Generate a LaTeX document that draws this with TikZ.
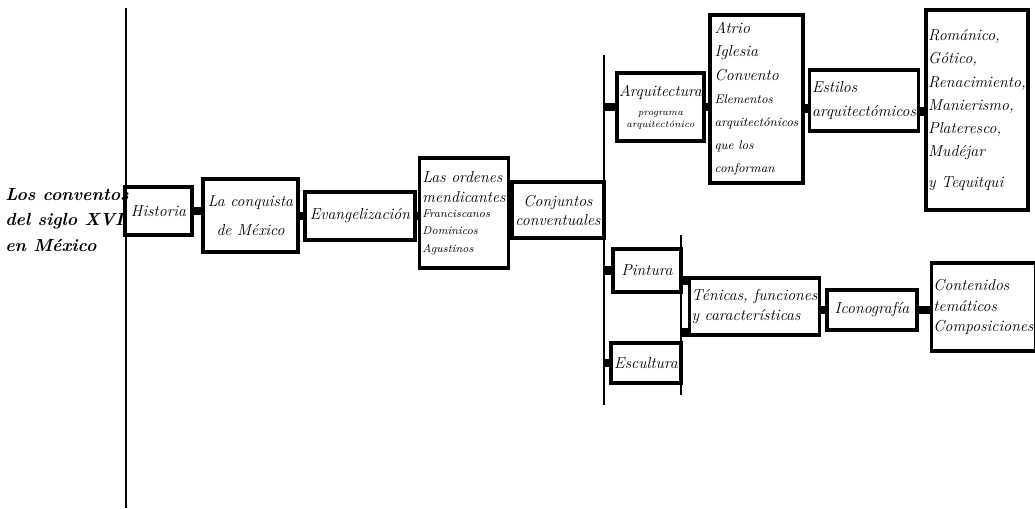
\documentclass[tikz,border=0pt]{standalone}
\usepackage{tikz}
\usetikzlibrary{positioning}
\tikzstyle{block} = [draw, rectangle, line width=2.2pt, inner sep=1.5pt, align=left, font=\fontsize{11.3}{16.5}\selectfont\itshape]
\tikzstyle{title} = [align=left, inner sep=0pt, font=\fontsize{12.5}{18}\selectfont\bfseries\itshape]
\tikzstyle{link} = [line width=6pt]
\tikzstyle{rail} = [line width=1.9pt]
\newcommand{\ftsmall}{\fontsize{8}{9}\selectfont}
\newcommand{\fttiny}{\fontsize{6.8}{7}\selectfont}
\newcommand{\ftmid}{\fontsize{9}{10}\selectfont}

\begin{document}
\begin{tikzpicture}[x=0.025cm, y=-0.025cm]
    \useasboundingbox (0,0) rectangle (1035,508);
    % main axis
    \coordinate (axtop) at (126,8);
    \coordinate (axbot) at (126,508);
    \draw [rail] (axtop) -- (axbot);
    \node [title, anchor=east] (tema) at (129,220) {Los conventos\\del siglo XVI\\en México};

    % chain
    \node [block, minimum width=1.675cm, minimum height=1.2cm] (hist) at (158.5,211) {Historia};
    \node [block, align=center, minimum width=2.375cm, minimum height=1.825cm] (conq) at (250.5,215.5) {La conquista\\[4pt]de México};
    \node [block, minimum width=2.75cm, minimum height=1.2cm] (evan) at (360,216) {Evangelización};
    \node [block, minimum width=2.225cm, minimum height=2.75cm] (ord) at (464,213) {Las ordenes\\[-2pt]mendicantes\\[-6pt]{\ftsmall Franciscanos}\\[-4pt]{\ftsmall Dominicos}\\[-4pt]{\ftsmall Agustinos}};
    \node [block, align=center, minimum width=2.3cm, minimum height=1.4cm] (conj) at (558,210) {Conjuntos\\[-3pt]conventuales};
    \draw [link] (hist.east) -- (conq.west |- hist.east);
    \draw [link] (conq.east |- evan.west) -- (evan.west);
    \draw [link] (evan.east) -- (ord.west |- evan.east);
    \draw [link] (ord.east |- conj.west) -- (conj.west);

    % second axis
    \coordinate (rtop) at (604,55);
    \coordinate (rbot) at (604,405);
    \draw [rail] (rtop) -- (rbot);

    % architecture
    \node [block, align=center, minimum width=2.175cm, minimum height=1.7cm] (arq) at (660.5,107) {Arquitectura\\[-3pt]{\fttiny programa}\\[-8pt]{\fttiny arquitectónico}};
    \node [block, minimum width=2.325cm, minimum height=4.2cm] (atrio) at (756.5,99) {Atrio\\Iglesia\\Convento\\{\ftmid Elementos}\\{\ftmid arquitectónicos}\\{\ftmid que los}\\{\ftmid conforman}};
    \node [block, minimum width=2.6cm, minimum height=1.525cm] (est) at (864,100.5) {Estilos\\[1pt]arquitectómicos};
    \node [block, minimum width=2.55cm, minimum height=5cm] (rom) at (977,110) {Románico,\\Gótico,\\Renacimiento,\\Manierismo,\\Plateresco,\\Mudéjar\\[5pt]y Tequitqui};
    \coordinate (estL) at ([yshift=-0.2cm]est.west);
    \coordinate (estR) at ([yshift=-0.28cm]est.east);
    \draw [link] (arq.west -| rtop) -- (arq.west);
    \draw [link] (arq.east) -- (atrio.west |- arq.east);
    \draw [link] (atrio.east |- estL) -- (estL);
    \draw [link] (estR) -- (rom.west |- estR);

    % painting and sculpture
    \coordinate (qtop) at (681,235);
    \coordinate (qbot) at (681,395);
    \draw [rail] (qtop) -- (qbot);
    \node [block, minimum width=1.7cm, minimum height=1.075cm] (pint) at (647,270.5) {Pintura};
    \node [block, minimum width=1.75cm, minimum height=1.0cm] (esc) at (646,363) {Escultura};
    \node [block, minimum width=3.075cm, minimum height=1.425cm] (tec) at (754.5,306.5) {Ténicas, funciones\\[-2pt]y características};
    \node [block, minimum width=2.25cm, minimum height=1.0cm] (ico) at (872,310) {Iconografía};
    \node [block, minimum width=2.5cm, minimum height=2.2cm] (cont) at (983.5,307) {Contenidos\\[-2pt]temáticos\\[-2pt]Composiciones};
    \coordinate (tecA) at ([yshift=-3pt]tec.north west);
    \coordinate (tecB) at ([yshift=3pt]tec.south west);
    \draw [link] (pint.west -| rtop) -- (pint.west);
    \draw [link] (esc.west -| rtop) -- (esc.west);
    \draw [link] (tecA -| qtop) -- (tecA);
    \draw [link] (tecB -| qtop) -- (tecB);
    \draw [link] (tec.east |- ico.west) -- (ico.west);
    \draw [link] (ico.east) -- (cont.west |- ico.east);
\end{tikzpicture}
\end{document}
